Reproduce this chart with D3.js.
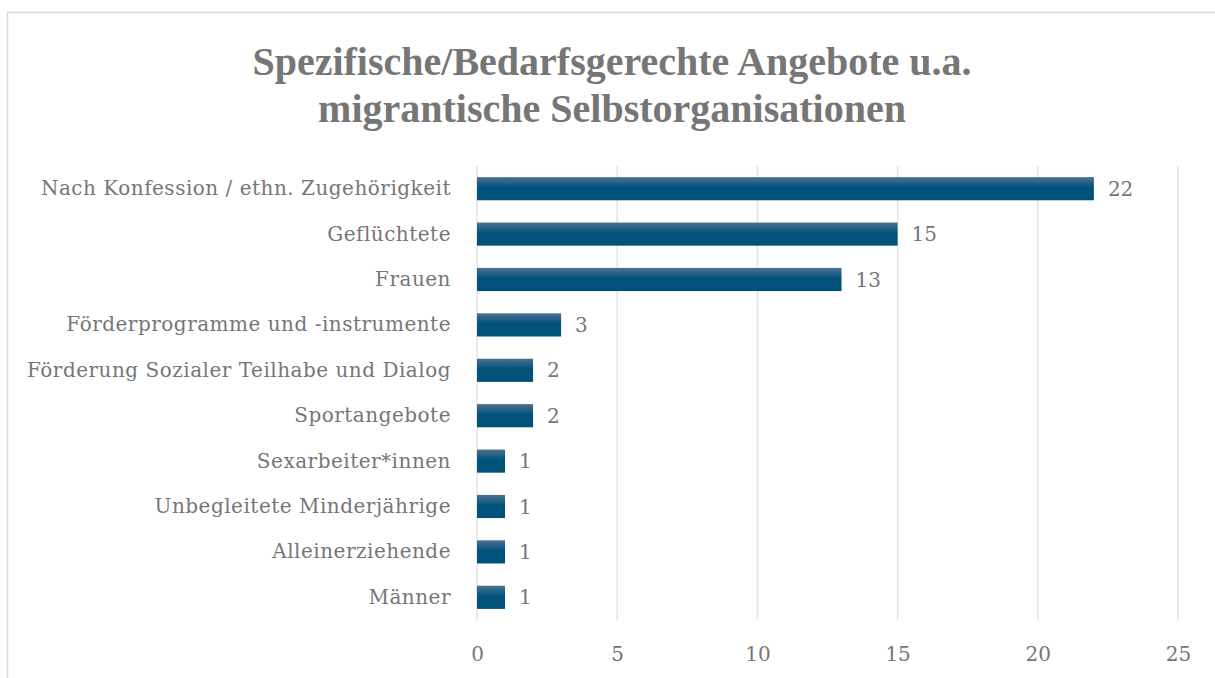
<!DOCTYPE html>
<html>
<head>
<meta charset="utf-8">
<script src="https://cdn.jsdelivr.net/npm/d3@7"></script>
<style>
  body { margin: 0; background: #fff; }
  svg text { font-family: "DejaVu Serif", "Liberation Serif", serif; }
  svg text.title { font-family: "Liberation Serif", "DejaVu Serif", serif; }
</style>
</head>
<body>
<div id="chart"></div>
<script>
const titleLines = ["Spezifische/Bedarfsgerechte Angebote u.a.", "migrantische Selbstorganisationen"];
const categories = [
  "Nach Konfession / ethn. Zugehörigkeit",
  "Geflüchtete",
  "Frauen",
  "Förderprogramme und -instrumente",
  "Förderung Sozialer Teilhabe und Dialog",
  "Sportangebote",
  "Sexarbeiter*innen",
  "Unbegleitete Minderjährige",
  "Alleinerziehende",
  "Männer"
];
const values = [22, 15, 13, 3, 2, 2, 1, 1, 1, 1];
const xTicks = [0, 5, 10, 15, 20, 25];

const width = 1215, height = 678;
const margin = { top: 166, right: 37, bottom: 58, left: 477 };
const textColor = "#767676";

const svg = d3.select("#chart").append("svg")
  .attr("width", width)
  .attr("height", height);

const defs = svg.append("defs");
const grad = defs.append("linearGradient")
  .attr("id", "barGrad")
  .attr("x1", 0).attr("y1", 0).attr("x2", 0).attr("y2", 1);
grad.append("stop").attr("offset", "0%").attr("stop-color", "#4d7190");
grad.append("stop").attr("offset", "45%").attr("stop-color", "#00527a");
grad.append("stop").attr("offset", "100%").attr("stop-color", "#00527a");

// chart frame
svg.append("rect")
  .attr("x", 7.5).attr("y", 12.5)
  .attr("width", width + 10).attr("height", height + 10)
  .attr("fill", "none")
  .attr("stroke", "#d9d9d9")
  .attr("stroke-width", 1.5);

// title
svg.append("text")
  .attr("class", "title")
  .attr("x", 612)
  .attr("y", 75)
  .attr("text-anchor", "middle")
  .style("font-size", "40px")
  .style("font-weight", "bold")
  .style("fill", textColor)
  .selectAll("tspan")
  .data(titleLines)
  .enter()
  .append("tspan")
  .attr("x", 612)
  .attr("dy", (d, i) => i === 0 ? 0 : 47)
  .text(d => d);

const x = d3.scaleLinear()
  .domain([0, 25])
  .range([margin.left, width - margin.right]);

const y = d3.scaleBand()
  .domain(categories)
  .range([margin.top, height - margin.bottom])
  .paddingInner(0.49)
  .paddingOuter(0.245);

// gridlines
svg.append("g")
  .selectAll("line")
  .data(xTicks)
  .enter()
  .append("line")
  .attr("x1", d => x(d)).attr("x2", d => x(d))
  .attr("y1", margin.top).attr("y2", height - margin.bottom)
  .attr("stroke", "#e3e3e3")
  .attr("stroke-width", 1.5);

// x axis labels
const xAxis = svg.append("g")
  .attr("transform", `translate(0, ${height - margin.bottom})`)
  .call(d3.axisBottom(x).tickValues(xTicks).tickSize(0).tickPadding(27));
xAxis.select(".domain").remove();
xAxis.selectAll("text")
  .style("font-size", "20px")
  .style("fill", textColor);

// y axis labels
const yAxis = svg.append("g")
  .attr("transform", `translate(${margin.left}, 0)`)
  .call(d3.axisLeft(y).tickSize(0).tickPadding(26));
yAxis.select(".domain").remove();
yAxis.selectAll("text")
  .style("font-size", "20px")
  .style("letter-spacing", "0.5px")
  .style("fill", textColor);

// bars
svg.append("g")
  .selectAll("rect")
  .data(values)
  .enter()
  .append("rect")
  .attr("x", x(0))
  .attr("y", (d, i) => y(categories[i]))
  .attr("width", d => x(d) - x(0))
  .attr("height", y.bandwidth())
  .attr("fill", "url(#barGrad)");

// value labels
svg.append("g")
  .selectAll("text")
  .data(values)
  .enter()
  .append("text")
  .attr("x", d => x(d) + 14)
  .attr("y", (d, i) => y(categories[i]) + y.bandwidth() / 2)
  .attr("dy", "0.35em")
  .style("font-size", "20px")
  .style("fill", textColor)
  .text(d => d);
</script>
</body>
</html>
